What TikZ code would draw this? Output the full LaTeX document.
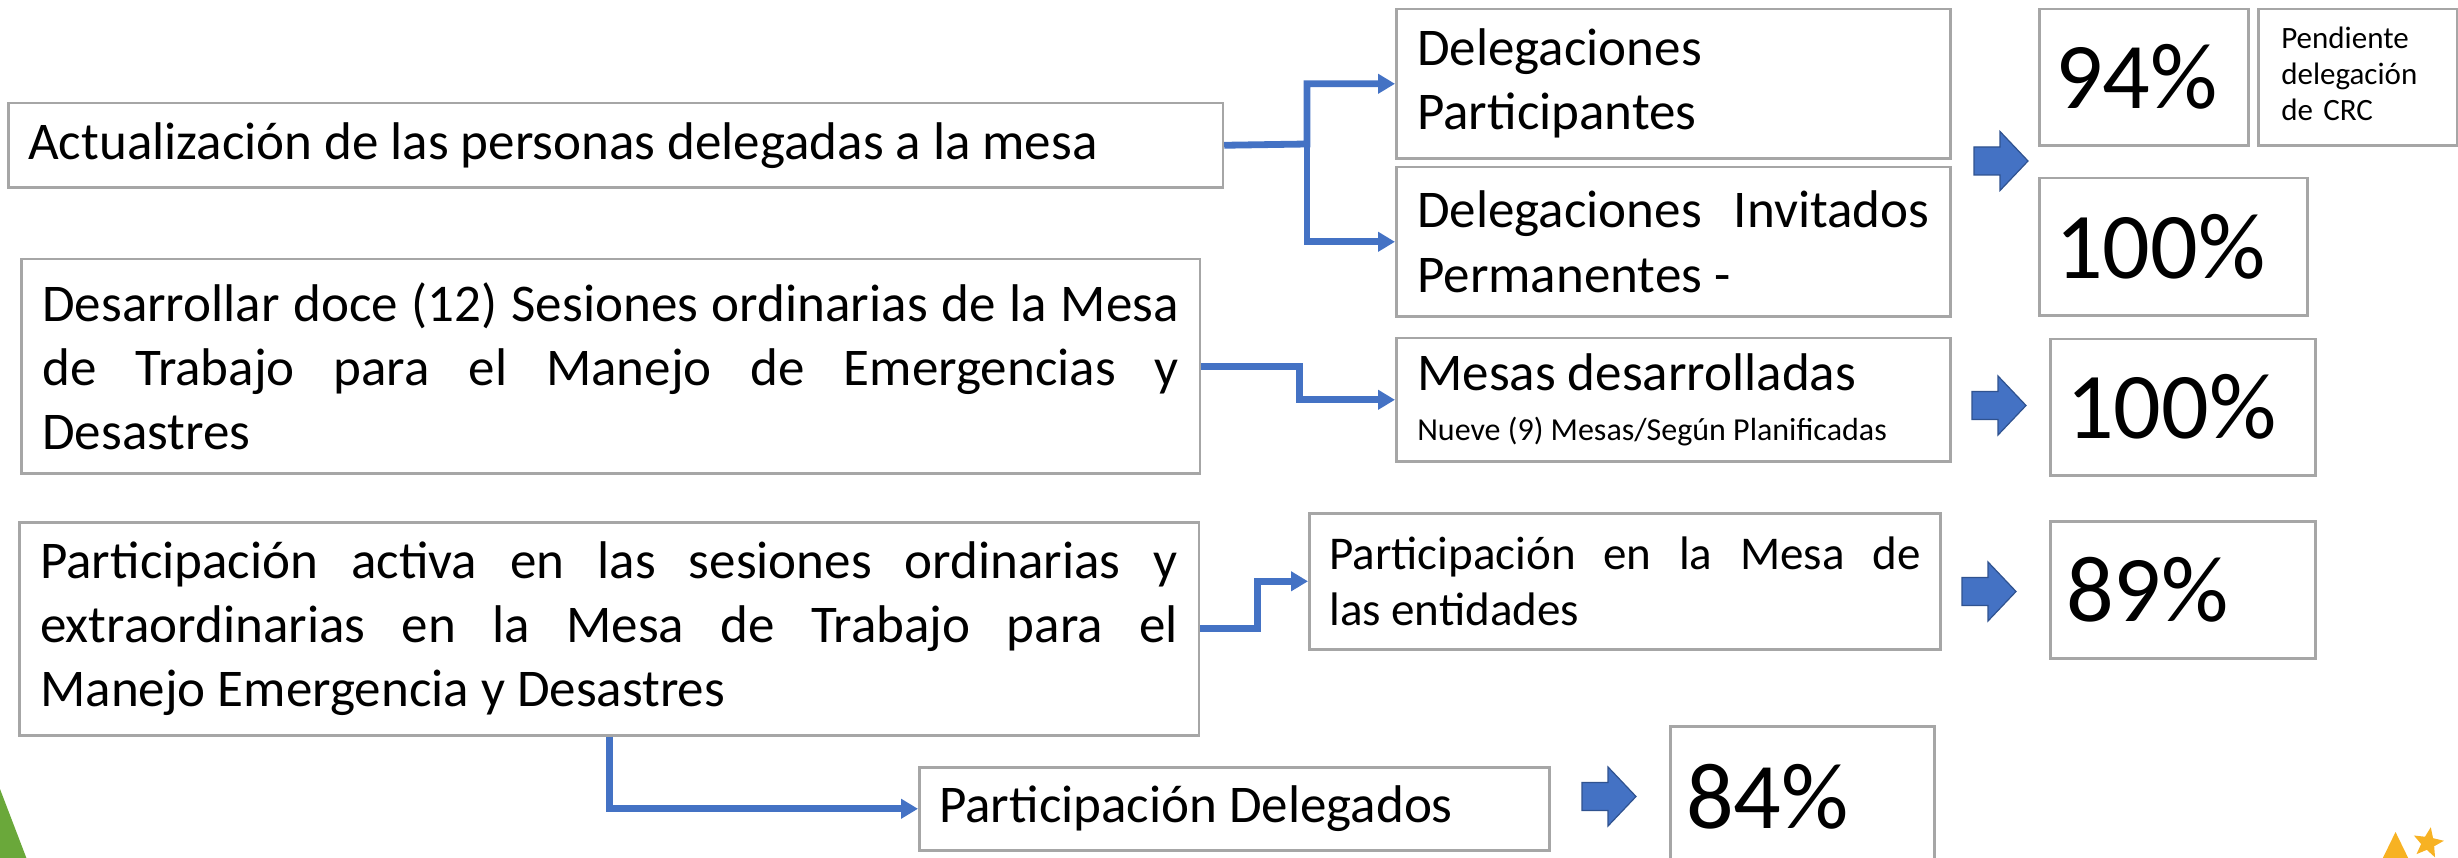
\documentclass[tikz,border=0pt]{standalone}
\usepackage{fontspec}
\setmainfont{Carlito}
\usetikzlibrary{arrows.meta,shapes.geometric}
\definecolor{boxgray}{RGB}{166,166,166}
\definecolor{conblue}{RGB}{68,114,196}
\definecolor{arrowedge}{RGB}{47,82,143}
\definecolor{leafgreen}{RGB}{106,168,58}
\definecolor{staryellow}{RGB}{247,178,35}
\newcommand{\mainfs}{\fontsize{15.08pt}{18.21pt}\selectfont}
\newcommand{\midfs}{\fontsize{13.37pt}{15.93pt}\selectfont}
\newcommand{\nuevefs}{\fontsize{9.1pt}{12.2pt}\selectfont}
\newcommand{\pendfs}{\fontsize{8.82pt}{10.24pt}\selectfont}
\newcommand{\pctfs}{\fontsize{26.75pt}{32pt}\selectfont}
\setlength{\parindent}{0pt}
\hyphenpenalty=10000
\exhyphenpenalty=10000
\tolerance=10000
\begin{document}
\begin{tikzpicture}[x=0.01cm,y=-0.01cm,
  box/.style={draw=boxgray, line width=0.025cm, fill=white, anchor=north west,
    inner xsep=0.2cm, inner ysep=0pt, align=justify},
  pct/.style={box, inner xsep=0.16cm, align=left, font=\pctfs},
  conn/.style={draw=conblue, line width=0.068cm, -{Triangle[length=0.17cm,width=0.19cm]}},
  barrow/.pic={\filldraw[fill=conblue, draw=arrowedge, line width=0.012cm]
    (0,-14) -- (26,-14) -- (26,-29.5) -- (54,0) -- (26,29.5) -- (26,14) -- (0,14) -- cycle;}
]
\useasboundingbox (0,0) rectangle (2458,858);
\clip (0,0) rectangle (2458,858);

% left column
\node[box, font=\mainfs, minimum width=12.14cm, minimum height=0.84cm, text width=11.74cm] (A) at (7,102)
  {Actualización de las personas delegadas a la mesa};
\node[box, font=\mainfs, minimum width=11.78cm, minimum height=2.14cm, text width=11.36cm, inner xsep=0.21cm] (B) at (20,258)
  {Desarrollar doce (12) Sesiones ordinarias de la Mesa\linebreak de Trabajo para el Manejo de Emergencias y\linebreak Desastres};
\node[box, font=\mainfs, minimum width=11.79cm, minimum height=2.13cm, text width=11.37cm, inner xsep=0.21cm] (C) at (18,521)
  {Participación activa en las sesiones ordinarias y\linebreak extraordinarias en la Mesa de Trabajo para el\linebreak Manejo Emergencia y Desastres};

% middle column
\node[box, font=\mainfs, minimum width=5.54cm, minimum height=1.49cm, text width=5.12cm, inner xsep=0.21cm] (Part) at (1395,8)
  {Delegaciones\newline Participantes};
\node[box, font=\mainfs, minimum width=5.54cm, minimum height=1.49cm, text width=5.12cm, inner xsep=0.21cm] (Inv) at (1395,166)
  {Delegaciones Invitados\linebreak Permanentes -};
\node[box, font=\mainfs, minimum width=5.54cm, minimum height=1.23cm, text width=5.12cm, inner xsep=0.21cm] (Mesas) at (1395,337)
  {Mesas desarrolladas\\[-0.14cm]\nuevefs Nueve (9) Mesas/Según Planificadas};
\node[box, font=\midfs, minimum width=6.31cm, minimum height=1.36cm, text width=5.91cm] (PM) at (1308,512)
  {Participación en la Mesa de\linebreak las entidades};
\node[box, font=\mainfs, minimum width=6.30cm, minimum height=0.83cm, text width=5.90cm] (D) at (918,766)
  {Participación Delegados};

% right column
\node[pct, minimum width=2.09cm, minimum height=1.36cm, text width=1.77cm] (P94) at (2038,8) {94\%};
\node[box, font=\pendfs, align=left, minimum width=1.99cm, minimum height=1.36cm, text width=1.53cm, inner xsep=0.23cm] (Pend) at (2257,8)
  {\begin{tabular}{@{}l@{}}Pendiente\\delegación\\de CRC\end{tabular}};
\node[pct, minimum width=2.68cm, minimum height=1.37cm, text width=2.36cm] (P100a) at (2038,177) {100\%};
\node[pct, minimum width=2.65cm, minimum height=1.36cm, text width=2.33cm] (P100b) at (2049,338) {100\%};
\node[pct, minimum width=2.65cm, minimum height=1.37cm, text width=2.33cm] (P89) at (2049,520) {89\%};
\node[pct, minimum width=2.64cm, minimum height=1.40cm, text width=2.32cm] (P84) at (1669,725) {84\%};

% connectors
\coordinate (j1) at (1307,144);
\draw[conn] (A.east) -- (j1) |- (Part.west);
\draw[conn] (j1) |- (Inv.west);
\draw[conn] (B.east) -- ++(98,0) |- (Mesas.west);
\draw[conn] (C.east) -- ++(57,0) |- (PM.west);
\draw[conn] (C.south) |- (D.west);

% block arrows
\pic at (1974,161) {barrow};
\pic at (1972,405.5) {barrow};
\pic at (1962,591.5) {barrow};
\pic at (1582,796.5) {barrow};

% decorations
\fill[leafgreen] (0,789) -- (31,870) -- (0,870) -- cycle;
\fill[staryellow] (2395.5,832) -- (2414,870) -- (2377,870) -- cycle;
\node[star, star points=5, star point ratio=2.3, fill=staryellow, inner sep=0pt, minimum size=0.32cm, rotate=-10] (star) at (2428,843) {};
\end{tikzpicture}
\end{document}
